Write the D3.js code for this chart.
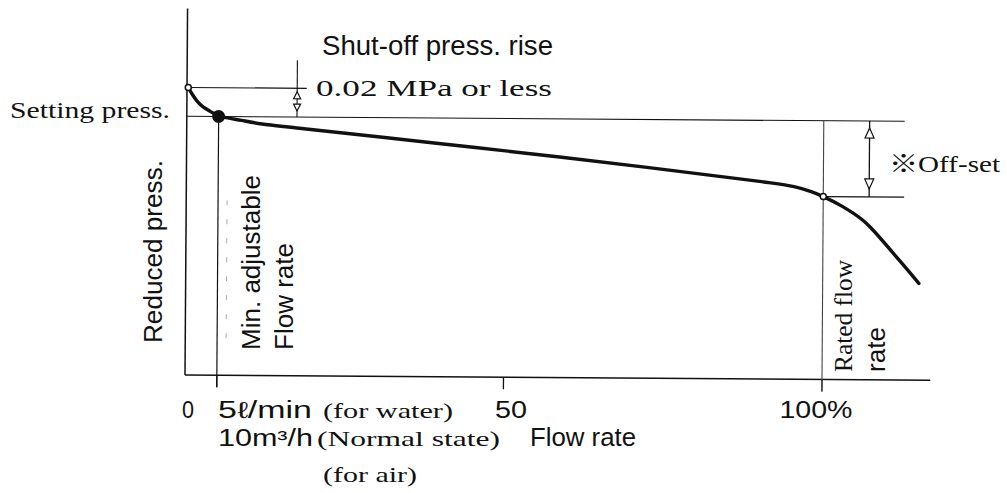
<!DOCTYPE html>
<html>
<head>
<meta charset="utf-8">
<script src="https://cdn.jsdelivr.net/npm/d3@7"></script>
<style>
  body { margin: 0; background: #fff; }
  svg { display: block; }
  .sans { font-family: "Liberation Sans", Arial, sans-serif; }
  .serif { font-family: "Liberation Serif", "Times New Roman", "Noto Sans CJK JP", serif; }
</style>
</head>
<body>
<svg width="1007" height="493"></svg>
<script>
// curve: flow rate (% of rated) vs reduced pressure (MPa, nominal)
const flowPct  = [0.2, 0.8, 1.6, 2.4, 3.6, 5, 8.6, 11.8, 17.3, 38.5, 58.9, 90.3, 95.4, 98.1, 100, 103, 106, 107.5, 112.2, 115.1];
const pressMPa = [0.200, 0.1955, 0.1906, 0.1871, 0.1837, 0.1805, 0.1774, 0.1750, 0.1724, 0.1628, 0.1533, 0.1373, 0.1340, 0.1306, 0.1272, 0.1205, 0.1118, 0.1058, 0.0823, 0.0673];

const tickValues = [5, 50, 100];
const labelValues = [0, 50, 100];
const labelTexts = ["0", "50", "100%"];

const shutoffPress = 0.20;   // shut-off pressure
const settingPress = 0.18;   // setting pressure (0.02 MPa below shut-off)
const minFlow = 5;           // min. adjustable flow rate
const ratedFlow = 100;       // rated flow rate
const ratedPress = 0.1272;   // pressure at rated flow

const svg = d3.select("svg");

const x = d3.scaleLinear().domain([0, 100]).range([185, 822]);
const y = d3.scaleLinear().domain([0, 0.2]).range([375, 87.5]);

// the scanned drawing is tilted a little
const plot = svg.append("g").attr("transform", "rotate(0.4, 185, 375)");

const ink = "#111";

// axes
plot.append("line")
    .attr("x1", x(0)).attr("x2", x(0))
    .attr("y1", y(0)).attr("y2", y(0.255))
    .attr("stroke", ink).attr("stroke-width", 1.5);
plot.append("line")
    .attr("x1", x(0)).attr("x2", x(117))
    .attr("y1", y(0)).attr("y2", y(0))
    .attr("stroke", ink).attr("stroke-width", 1.5);

plot.selectAll(".tick")
    .data(tickValues)
    .enter()
    .append("line")
    .attr("x1", d => x(d)).attr("x2", d => x(d))
    .attr("y1", y(0)).attr("y2", y(0) + 12)
    .attr("stroke", ink).attr("stroke-width", 1.3);

// reference lines
plot.append("line")   // shut-off press.
    .attr("x1", x(0)).attr("x2", x(18.8))
    .attr("y1", y(shutoffPress)).attr("y2", y(shutoffPress))
    .attr("stroke", ink).attr("stroke-width", 1.2);
plot.append("line")   // setting press.
    .attr("x1", x(0)).attr("x2", x(112.7))
    .attr("y1", y(settingPress)).attr("y2", y(settingPress))
    .attr("stroke", ink).attr("stroke-width", 1.2);
plot.append("line")   // off-set lower line
    .attr("x1", x(ratedFlow)).attr("x2", x(112.7))
    .attr("y1", y(ratedPress)).attr("y2", y(ratedPress))
    .attr("stroke", ink).attr("stroke-width", 1.2);
plot.append("line")   // min. adjustable flow
    .attr("x1", x(minFlow)).attr("x2", x(minFlow))
    .attr("y1", y(settingPress)).attr("y2", y(0) + 12)
    .attr("stroke", ink).attr("stroke-width", 1.2);
plot.append("line")   // rated flow
    .attr("x1", x(ratedFlow)).attr("x2", x(ratedFlow))
    .attr("y1", y(settingPress)).attr("y2", y(0) + 12)
    .attr("stroke", "#444").attr("stroke-width", 1.1);

// faint marks next to the min. flow line
plot.append("line")
    .attr("x1", x(minFlow) + 9).attr("x2", x(minFlow) + 9)
    .attr("y1", 200).attr("y2", 347)
    .attr("stroke", "#aaa").attr("stroke-width", 1)
    .attr("stroke-dasharray", "5,14");

// dimension arrows
function arrowHead(xp, tip, dir, h, w) {
    // dir -1: pointing up, +1: pointing down
    const base = tip - dir * h;
    plot.append("path")
        .attr("d", `M${xp},${tip} L${xp - w},${base} L${xp + w},${base} Z`)
        .attr("fill", "#fff").attr("stroke", ink).attr("stroke-width", 1.2);
}

const ax1 = x(17.3);
plot.append("line")
    .attr("x1", ax1).attr("x2", ax1)
    .attr("y1", y(shutoffPress) - 28).attr("y2", y(settingPress))
    .attr("stroke", ink).attr("stroke-width", 1.1);
arrowHead(ax1, y(shutoffPress) + 3.5, -1, 7, 3.5);
arrowHead(ax1, y(settingPress) - 6, 1, 7, 3.5);

const ax2 = x(107.2);
plot.append("line")
    .attr("x1", ax2).attr("x2", ax2)
    .attr("y1", y(settingPress)).attr("y2", y(ratedPress))
    .attr("stroke", ink).attr("stroke-width", 1.3);
arrowHead(ax2, y(settingPress) + 7, -1, 10, 4.5);
arrowHead(ax2, y(ratedPress) - 8, 1, 10, 4.5);

// curve
const pts = flowPct.map((f, i) => [f, pressMPa[i]]);
const line = d3.line()
    .x(d => x(d[0]))
    .y(d => y(d[1]))
    .curve(d3.curveCatmullRom.alpha(0.5));

plot.append("path")
    .datum(pts)
    .attr("d", line)
    .attr("fill", "none")
    .attr("stroke", ink)
    .attr("stroke-width", 3.4)
    .attr("stroke-linecap", "round");

plot.append("circle")
    .attr("cx", x(flowPct[0])).attr("cy", y(pressMPa[0])).attr("r", 3)
    .attr("fill", "#fff").attr("stroke", ink).attr("stroke-width", 1.5);
plot.append("circle")
    .attr("cx", x(minFlow)).attr("cy", y(settingPress)).attr("r", 6.5)
    .attr("fill", ink);
plot.append("circle")
    .attr("cx", x(ratedFlow)).attr("cy", y(ratedPress)).attr("r", 3)
    .attr("fill", "#fff").attr("stroke", ink).attr("stroke-width", 1.5);

// texts
function label(cls, txt, xp, yp, size, len, rot, anchor) {
    const t = svg.append("text")
        .attr("class", cls)
        .attr("font-size", size)
        .attr("fill", ink)
        .attr("text-anchor", anchor || "start")
        .text(txt);
    if (rot) {
        t.attr("transform", `translate(${xp},${yp}) rotate(-90)`);
    } else {
        t.attr("x", xp).attr("y", yp);
    }
    if (len) t.attr("textLength", len).attr("lengthAdjust", "spacingAndGlyphs");
    return t;
}

label("sans", "Shut-off press. rise", 322, 55, 27, 231);
label("serif", "0.02 MPa or less", 316, 96, 23, 236);
label("serif", "Setting press.", 10, 118, 24, 160);
label("serif", "\u203BOff-set", 889, 172, 24, 111);

label("sans", "Reduced press.", 162, 343, 26, 183, true);
label("sans", "Min. adjustable", 260, 350, 26, 175, true);
label("sans", "Flow rate", 293, 350, 26, 107, true);
label("serif", "Rated flow", 852, 372, 25, 112, true);
label("sans", "rate", 885, 372, 26, 45, true);

// x tick labels
const labelShift = [3, 7.5, -6];
const labelLen = [12, 32, 73];
labelValues.forEach((v, i) => {
    label("sans", labelTexts[i], x(v) + labelShift[i], 418, 23, labelLen[i], false, "middle");
});

label("sans", "5\u2113/min", 218, 418, 23, 94);
label("serif", "(for water)", 323, 418, 22, 130);
label("sans", "10m\u00B3/h", 218, 446, 23, 95);
label("serif", "(Normal state)", 317, 446, 22, 183);
label("sans", "Flow rate", 530, 446, 25, 106);
label("serif", "(for air)", 323, 482, 22, 94);
</script>
</body>
</html>
